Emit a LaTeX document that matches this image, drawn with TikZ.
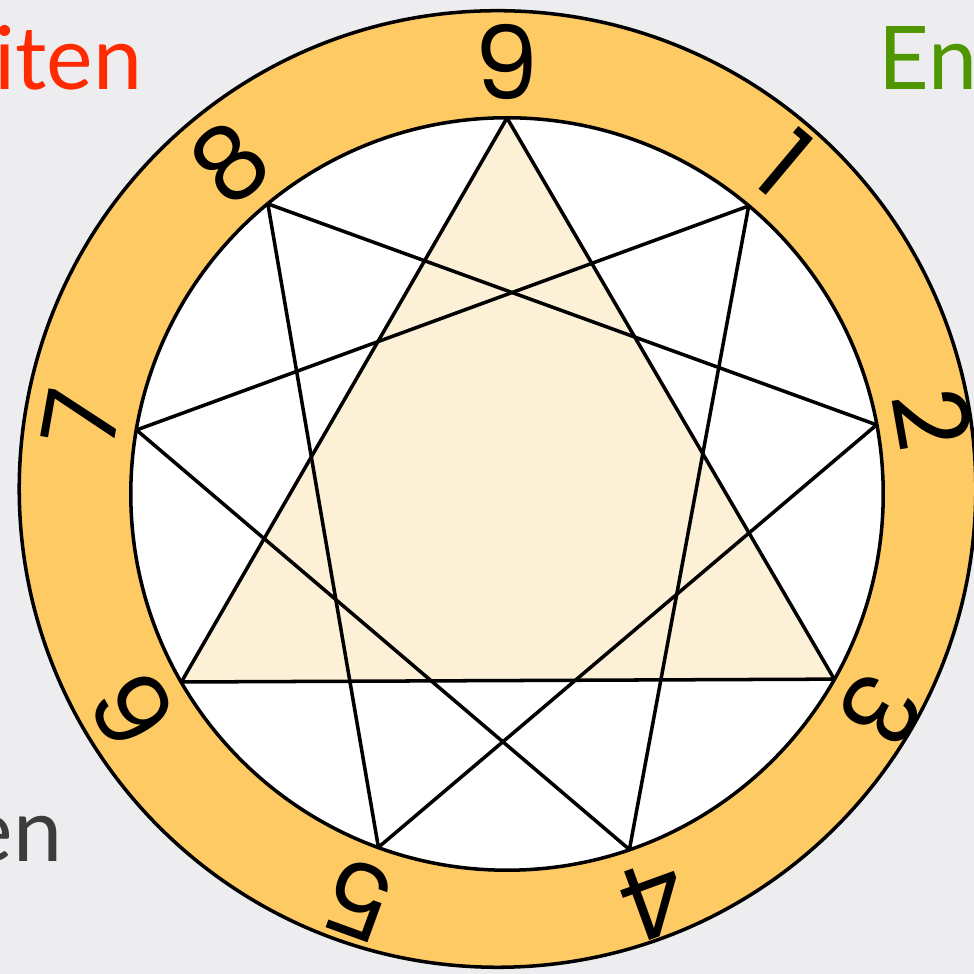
\documentclass[tikz,border=0pt]{standalone}
\usepackage{fontspec}
\setmainfont{Lato}
\newfontfamily\digitfont{Poppins}
\definecolor{bg}{HTML}{EDEDF0}
\definecolor{ring}{HTML}{FECA64}
\definecolor{tri}{HTML}{FCF0D7}
\definecolor{redtxt}{HTML}{FF2A00}
\definecolor{greentxt}{HTML}{4F9600}
\definecolor{graytxt}{HTML}{3C3C3C}
\begin{document}
\begin{tikzpicture}[x=0.01cm,y=0.01cm,
  edge/.style={draw=black,line width=1pt,line join=round},
  digit/.style={font=\digitfont\fontsize{29}{29}\selectfont,inner sep=0pt},
  word/.style={font=\fontsize{25}{25}\selectfont,inner sep=0pt,anchor=base}]
\useasboundingbox (0,0) rectangle (974,974);
\clip (0,0) rectangle (974,974);
\fill[bg] (0,0) rectangle (974,974);
% ring and inner disc
\draw[edge,fill=ring] (497.5,485) circle (4.78cm);
\draw[edge,fill=white] (507,480) circle (3.76cm);
% vertices
\coordinate (c) at (507,480);
\foreach \n/\a in {9/90,1/50,2/10.6,3/-29.5,4/-71,5/-110,6/-150,7/170.2,8/129.5}{
  \coordinate (p\n) at ([shift={(c)}]\a:376);
}
% three triangles
\draw[edge,fill=tri] (p9) -- (p3) -- (p6) -- cycle;
\draw[edge] (p1) -- (p4) -- (p7) -- cycle;
\draw[edge] (p2) -- (p5) -- (p8) -- cycle;
% digits
\foreach \n/\a in {9/90,1/50,2/10,3/-30,4/-70,5/-110,6/-150,7/170,8/130}{
  \node[digit,rotate=\a-90] (d\n) at ([shift={(c)}]\a:432) {\n};
}
% words
\node[word,anchor=base east,text=redtxt] (w1) at (143,884) {iten};
\node[word,anchor=base west,text=greentxt] (w2) at (878,884) {En};
\node[word,anchor=base east,text=graytxt] (w3) at (63,112) {en};
\end{tikzpicture}
\end{document}
